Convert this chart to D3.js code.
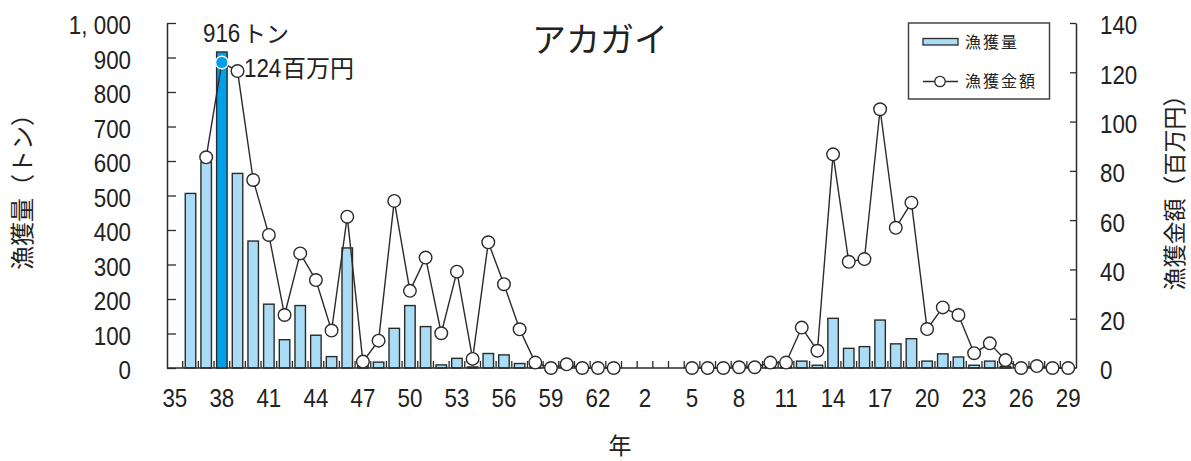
<!DOCTYPE html>
<html><head><meta charset="utf-8">
<script src="https://cdn.jsdelivr.net/npm/d3@7"></script>
<style>
html,body{margin:0;padding:0;background:#fff;}
svg{display:block;}
.num{font-family:"Liberation Sans Narrow","Liberation Sans",Arial,sans-serif;}
.jp{font-family:"Noto Sans CJK JP","Noto Sans",sans-serif;}
</style></head>
<body>
<svg id="chart" width="1191" height="461"></svg>
<script>
// Categories: Showa 35–63, Heisei 1–29
const categories = ["35","36","37","38","39","40","41","42","43","44","45","46","47","48","49","50","51","52","53","54","55","56","57","58","59","60","61","62","63",
  "1","2","3","4","5","6","7","8","9","10","11","12","13","14","15","16","17","18","19","20","21","22","23","24","25","26","27","28","29"];
const tickLabels = ["35","38","41","44","47","50","53","56","59","62","2","5","8","11","14","17","20","23","26","29"];
// 漁獲量 (トン)
const catchTons = [null,506,596,916,564,368,185,82,181,95,33,348,9,17,115,181,120,9,28,3,42,38,13,4,1,1,0,0,0,
  null,null,null,null,0,0,0,1,1,3,3,20,8,144,57,62,139,70,85,20,41,32,8,20,5,2,1,1,1];
// 漁獲金額 (百万円)
const valueMillionYen = [null,null,85.5,124,120.5,76.3,54,21.5,46.5,35.7,15.2,61.4,2.6,11.1,67.8,31.3,44.8,14.1,39.1,3.7,51,34,15.7,2.2,0,1.5,0,0,0,
  null,null,null,null,0,0,0,0.3,0.3,2.2,2.2,16.4,7,86.7,43.1,44.2,105,56.9,67.1,15.8,24.6,21.5,6,10,3.2,0,0.8,0,0];
const leftTicks = [0,100,200,300,400,500,600,700,800,900,1000];
const rightTicks = [0,20,40,60,80,100,120,140];
const peakCategory = "38";

const SX = 0.86, NUMSIZE = 26;
const svg = d3.select("#chart");
const L = 167, R = 1076, T = 23, B = 368;
const xb = d3.scaleBand().domain(categories).range([L, R]);
const yL = d3.scaleLinear().domain([0, 1000]).range([B, T]);
const yR = d3.scaleLinear().domain([0, 140]).range([B, T]);
const ink = "#2b2b2b";
const cx = c => xb(c) + xb.bandwidth() / 2;

function narrow(sel, x) {
  sel.attr("class", "num").attr("font-size", NUMSIZE).attr("fill", "#222")
    .attr("transform", `scale(${SX},1)`).attr("x", x / SX);
}

// bars
svg.append("g").selectAll("rect")
  .data(categories.map((c, i) => ({c, v: catchTons[i]})).filter(d => d.v !== null && d.v > 0))
  .join("rect")
  .attr("x", d => cx(d.c) - 5.25)
  .attr("width", 10.5)
  .attr("y", d => yL(d.v))
  .attr("height", d => B - yL(d.v))
  .attr("fill", d => d.c === peakCategory ? "#00a0e9" : "#aadcf6")
  .attr("stroke", ink).attr("stroke-width", 1.4);

// x axis baseline + boundary ticks
const gx = svg.append("g");
gx.append("line").attr("x1", L).attr("x2", R).attr("y1", B).attr("y2", B).attr("stroke", ink).attr("stroke-width", 1.5);
gx.selectAll("line.bt").data(categories.slice(1)).join("line").attr("class", "bt")
  .attr("x1", d => xb(d)).attr("x2", d => xb(d)).attr("y1", B).attr("y2", B - 7)
  .attr("stroke", ink).attr("stroke-width", 1.3);
gx.selectAll("text").data(tickLabels).join("text")
  .each(function(d) { narrow(d3.select(this), cx(d)); })
  .attr("y", 407).attr("text-anchor", "middle").text(d => d);

// left axis
const gl = svg.append("g").attr("transform", `translate(${L},0)`)
  .call(d3.axisLeft(yL).tickValues(leftTicks).tickSizeInner(-9).tickSizeOuter(0).tickPadding(36)
    .tickFormat(d => d === 1000 ? "1, 000" : String(d)));
gl.select(".domain").attr("stroke", ink).attr("stroke-width", 1.5);
gl.selectAll(".tick line").attr("stroke", ink).attr("stroke-width", 1.3);
gl.selectAll(".tick text").each(function() { narrow(d3.select(this), -36); }).attr("dy", "0.42em");

// right axis
const gr = svg.append("g").attr("transform", `translate(${R},0)`)
  .call(d3.axisRight(yR).tickValues(rightTicks).tickSizeInner(-6).tickSizeOuter(0).tickPadding(24));
gr.select(".domain").attr("stroke", ink).attr("stroke-width", 1.5);
gr.selectAll(".tick line").attr("stroke", ink).attr("stroke-width", 1.3);
gr.selectAll(".tick text").each(function() { narrow(d3.select(this), 24); }).attr("dy", "0.42em");

// line
const pts = categories.map((c, i) => ({c, v: valueMillionYen[i]}));
const line = d3.line().defined(d => d.v !== null).x(d => cx(d.c)).y(d => yR(d.v));
svg.append("path").datum(pts).attr("d", line).attr("fill", "none").attr("stroke", ink).attr("stroke-width", 1.4);
svg.append("g").selectAll("circle").data(pts.filter(d => d.v !== null)).join("circle")
  .attr("cx", d => cx(d.c)).attr("cy", d => yR(d.v)).attr("r", 6.3)
  .attr("fill", d => d.c === peakCategory ? "#00a0e9" : "#fff")
  .attr("stroke", d => d.c === peakCategory ? "#fff" : ink).attr("stroke-width", 1.4);

// annotations
svg.append("text").call(s => narrow(s, 203)).attr("y", 42).text("916");
svg.append("text").attr("class", "jp").attr("x", 243).attr("y", 42).attr("font-size", 23).attr("fill", "#222").text("トン");
svg.append("text").call(s => narrow(s, 244)).attr("y", 77).text("124");
svg.append("text").attr("class", "jp").attr("x", 282).attr("y", 77).attr("font-size", 24).attr("fill", "#222").text("百万円");

// title
svg.append("text").attr("class", "jp").attr("x", 600).attr("y", 52).attr("text-anchor", "middle")
  .attr("font-size", 34).attr("fill", "#222").text("アカガイ");

// axis titles
svg.append("text").attr("class", "jp").attr("transform", "translate(31,186) rotate(-90)")
  .attr("text-anchor", "middle").attr("font-size", 24).attr("fill", "#222").text("漁獲量（トン）");
svg.append("text").attr("class", "jp").attr("transform", "translate(1183,187) rotate(-90)")
  .attr("text-anchor", "middle").attr("font-size", 23).attr("fill", "#222").text("漁獲金額（百万円）");
svg.append("text").attr("class", "jp").attr("x", 620).attr("y", 454).attr("text-anchor", "middle")
  .attr("font-size", 23).attr("fill", "#222").text("年");

// legend
const lg = svg.append("g");
lg.append("rect").attr("x", 908.5).attr("y", 23).attr("width", 141).attr("height", 76)
  .attr("fill", "#fff").attr("stroke", "#444").attr("stroke-width", 1.5);
lg.append("rect").attr("x", 923).attr("y", 38.5).attr("width", 35).attr("height", 6.5)
  .attr("fill", "#aadcf6").attr("stroke", ink).attr("stroke-width", 1.3);
lg.append("text").attr("class", "jp").attr("x", 965).attr("y", 48).attr("font-size", 16)
  .attr("letter-spacing", 2).attr("fill", "#222").text("漁獲量");
lg.append("line").attr("x1", 923).attr("x2", 958).attr("y1", 81.5).attr("y2", 81.5).attr("stroke", ink).attr("stroke-width", 1.4);
lg.append("circle").attr("cx", 940).attr("cy", 81.5).attr("r", 5.2).attr("fill", "#fff").attr("stroke", ink).attr("stroke-width", 1.3);
lg.append("text").attr("class", "jp").attr("x", 965).attr("y", 87).attr("font-size", 16)
  .attr("letter-spacing", 2).attr("fill", "#222").text("漁獲金額");
</script>
</body></html>
